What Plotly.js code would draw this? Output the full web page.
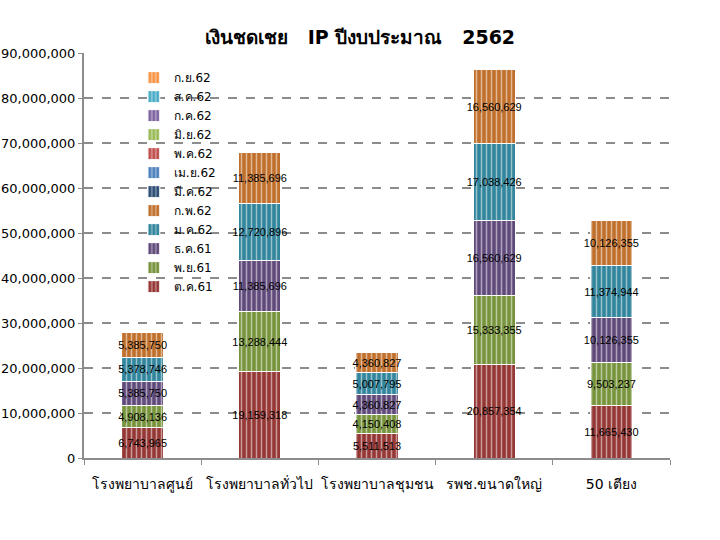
<!DOCTYPE html>
<html>
<head>
<meta charset="utf-8">
<script src="https://cdn.plot.ly/plotly-3.0.1.min.js"></script>
<style>html,body{margin:0;padding:0;background:#fff;}#chart{width:720px;height:540px;}</style>
</head>
<body>
<div id="chart"></div>
<script>
// Categories (hospital groups)
const categories = ["โรงพยาบาลศูนย์", "โรงพยาบาลทั่วไป", "โรงพยาบาลชุมชน", "รพช.ขนาดใหญ่", "50 เตียง"];

// Monthly series (fiscal year 2562)
const monthNames = ["ต.ค.61", "พ.ย.61", "ธ.ค.61", "ม.ค.62", "ก.พ.62", "มี.ค.62", "เม.ย.62", "พ.ค.62", "มิ.ย.62", "ก.ค.62", "ส.ค.62", "ก.ย.62"];

const octValues = [6743965, 19159318, 5511513, 20857354, 11665430];
const novValues = [4908136, 13288444, 4150408, 15333355, 9503237];
const decValues = [5385750, 11385696, 4360827, 16560629, 10126355];
const janValues = [5378746, 12720896, 5007795, 17038426, 11374944];
const febValues = [5385750, 11385696, 4360827, 16560629, 10126355];
const marValues = [null, null, null, null, null];
const aprValues = [null, null, null, null, null];
const mayValues = [null, null, null, null, null];
const junValues = [null, null, null, null, null];
const julValues = [null, null, null, null, null];
const augValues = [null, null, null, null, null];
const sepValues = [null, null, null, null, null];

const seriesValues = [octValues, novValues, decValues, janValues, febValues, marValues,
                      aprValues, mayValues, junValues, julValues, augValues, sepValues];

const colors = ["#953735", "#77933C", "#604A7B", "#31859C", "#C0702C", "#2C4D75",
                "#4F81BD", "#C0504D", "#9BBB59", "#8064A2", "#4BACC6", "#F79646"];

const traces = seriesValues.map((vals, i) => ({
  type: "bar",
  name: monthNames[i],
  x: categories,
  y: vals,
  marker: {
    color: colors[i],
    line: {color: "#ffffff", width: 1},
    pattern: {shape: "|", fillmode: "overlay", fgcolor: "#ffffff", size: 5, solidity: 0.3}
  },
  texttemplate: "%{y:,}",
  textposition: "inside",
  insidetextanchor: "middle",
  constraintext: "none",
  textangle: 0,
  textfont: {family: "Liberation Sans, Arial, sans-serif", size: 11, color: "#000000"},
  hoverinfo: "none"
}));

const layout = {
  width: 720,
  height: 540,
  paper_bgcolor: "#ffffff",
  plot_bgcolor: "#ffffff",
  barmode: "stack",
  bargap: 0.64,
  margin: {l: 84, r: 50, t: 53, b: 82},
  title: {
    text: "<b>เงินชดเชย   IP ปีงบประมาณ   2562</b>",
    font: {family: "DejaVu Sans, sans-serif", size: 19, color: "#000000"},
    x: 0.5, xanchor: "center",
    y: 0.93, yref: "container", yanchor: "middle"
  },
  showlegend: true,
  legend: {
    x: 0.085, xanchor: "left",
    y: 0.975, yanchor: "top",
    traceorder: "reversed",
    bgcolor: "rgba(0,0,0,0)",
    font: {family: "DejaVu Sans, sans-serif", size: 12, color: "#000000"},
    itemwidth: 30
  },
  xaxis: {
    type: "category",
    showgrid: false,
    showline: true,
    linecolor: "#8c8c8c",
    linewidth: 2,
    ticks: "outside",
    tickson: "boundaries",
    ticklen: 5,
    tickcolor: "#8c8c8c",
    tickangle: 0,
    ticklabelstandoff: 12,
    tickfont: {family: "DejaVu Sans, sans-serif", size: 14, color: "#000000"},
    automargin: false
  },
  yaxis: {
    range: [0, 90000000],
    dtick: 10000000,
    tickformat: ",d",
    showgrid: true,
    gridcolor: "#8c8c8c",
    gridwidth: 1.5,
    griddash: "dash",
    zeroline: false,
    showline: true,
    linecolor: "#8c8c8c",
    linewidth: 2,
    ticks: "outside",
    ticklen: 4,
    tickcolor: "#8c8c8c",
    tickfont: {family: "DejaVu Sans, sans-serif", size: 13, color: "#000000"},
    automargin: false
  }
};

Plotly.newPlot("chart", traces, layout, {displayModeBar: false, staticPlot: true});
</script>
</body>
</html>
